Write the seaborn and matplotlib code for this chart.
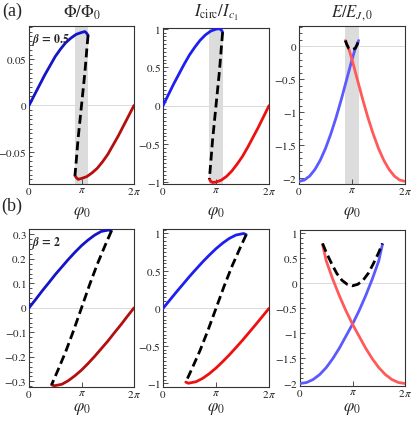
import numpy as np
import seaborn as sns
import matplotlib
matplotlib.use("Agg")
from matplotlib import pyplot as plt
from matplotlib.ticker import FixedLocator, MultipleLocator

# phi0 values are in units of pi
# ---- beta = 0.5 ----
phi_a_blue = [0, 0.1, 0.2, 0.3, 0.4, 0.5, 0.6, 0.7, 0.8, 0.9, 1.0, 1.065, 1.1, 1.125]
cur_a_blue = [0, 0.14, 0.28, 0.41, 0.54, 0.66, 0.76, 0.85, 0.92, 0.97, 0.995, 1.0, 0.985, 0.955]
phi_a_red = [0.875, 0.9, 0.935, 1.0, 1.1, 1.2, 1.3, 1.4, 1.5, 1.6, 1.7, 1.8, 1.9, 2.0]
cur_a_red = [-0.955, -0.985, -1.0, -0.995, -0.97, -0.92, -0.85, -0.76, -0.66, -0.54, -0.41, -0.28, -0.14, 0]
phi_a_dash = [1.125, 1.1, 1.065, 1.0, 0.935, 0.9, 0.875]
cur_a_dash = [0.955, 0.75, 0.45, 0.0, -0.45, -0.75, -0.955]

flux_a_blue = [0, 0.011, 0.022, 0.033, 0.043, 0.053, 0.061, 0.068, 0.073, 0.077, 0.079, 0.080, 0.078, 0.076]
flux_a_red = [-0.076, -0.078, -0.080, -0.079, -0.077, -0.073, -0.068, -0.061, -0.053, -0.043, -0.033, -0.022, -0.011, 0]
flux_a_dash = [0.076, 0.060, 0.036, 0.0, -0.036, -0.060, -0.076]

phi_a_eblue = [0, 0.1, 0.2, 0.3, 0.4, 0.5, 0.6, 0.7, 0.8, 0.9, 1.0, 1.06, 1.125]
en_a_blue = [-2.05, -2.03, -1.97, -1.87, -1.73, -1.55, -1.33, -1.08, -0.80, -0.50, -0.20, -0.04, 0.09]
phi_a_ered = [0.875, 0.94, 1.0, 1.1, 1.2, 1.3, 1.4, 1.5, 1.6, 1.7, 1.8, 1.9, 2.0]
en_a_red = [0.09, -0.04, -0.20, -0.50, -0.80, -1.08, -1.33, -1.55, -1.73, -1.87, -1.97, -2.03, -2.05]
phi_a_edash = [0.875, 0.9, 0.94, 1.0, 1.06, 1.1, 1.125]
en_a_dash = [0.09, 0.03, -0.03, -0.05, -0.03, 0.03, 0.09]

# ---- beta = 2 ----
phi_b_blue = [0, 0.125, 0.25, 0.375, 0.5, 0.625, 0.75, 0.875, 1.0, 1.125, 1.25, 1.375, 1.52, 1.57]
cur_b_blue = [0, 0.108, 0.216, 0.321, 0.426, 0.525, 0.622, 0.712, 0.797, 0.871, 0.934, 0.979, 1.0, 0.985]
phi_b_red = [0.43, 0.48, 0.625, 0.75, 0.875, 1.0, 1.125, 1.25, 1.375, 1.5, 1.625, 1.75, 1.875, 2.0]
cur_b_red = [-0.985, -1.0, -0.979, -0.934, -0.871, -0.797, -0.712, -0.622, -0.525, -0.426, -0.321, -0.216, -0.108, 0]
phi_b_dash = [1.57, 1.45, 1.3, 1.15, 1.0, 0.85, 0.7, 0.55, 0.43]
cur_b_dash = [0.985, 0.80, 0.56, 0.29, 0.0, -0.29, -0.56, -0.80, -0.985]

flux_b_blue = [0, 0.034, 0.069, 0.102, 0.136, 0.167, 0.198, 0.227, 0.254, 0.277, 0.297, 0.312, 0.318, 0.314]
flux_b_red = [-0.314, -0.318, -0.312, -0.297, -0.277, -0.254, -0.227, -0.198, -0.167, -0.136, -0.102, -0.069, -0.034, 0]
flux_b_dash = [0.314, 0.255, 0.178, 0.092, 0.0, -0.092, -0.178, -0.255, -0.314]

phi_b_eblue = [0, 0.125, 0.25, 0.375, 0.5, 0.625, 0.75, 0.875, 1.0, 1.125, 1.25, 1.375, 1.5, 1.57]
en_b_blue = [-2.01, -1.99, -1.93, -1.83, -1.69, -1.51, -1.30, -1.06, -0.82, -0.55, -0.25, 0.08, 0.45, 0.78]
phi_b_ered = [0.43, 0.5, 0.625, 0.75, 0.875, 1.0, 1.125, 1.25, 1.375, 1.5, 1.625, 1.75, 1.875, 2.0]
en_b_red = [0.78, 0.45, 0.08, -0.25, -0.55, -0.82, -1.06, -1.30, -1.51, -1.69, -1.83, -1.93, -1.99, -2.01]
phi_b_edash = [0.43, 0.5, 0.6, 0.7, 0.8, 0.9, 1.0, 1.1, 1.2, 1.3, 1.4, 1.5, 1.57]
en_b_dash = [0.80, 0.62, 0.40, 0.20, 0.06, -0.02, -0.05, -0.02, 0.06, 0.20, 0.40, 0.62, 0.80]

band_a = (0.87, 1.13)

sns.set_theme(style="ticks")
plt.rcParams['font.family'] = ['Liberation Serif', 'DejaVu Serif']
plt.rcParams['mathtext.fontset'] = 'stix'

W, H = 416, 421
fig = plt.figure(figsize=(W / 100, H / 100), dpi=100)


def px_axes(x0, y0, x1, y1):
    return fig.add_axes([x0 / W, 1 - y1 / H, (x1 - x0) / W, (y1 - y0) / H])


def line(ax, phi, vals, color, dashed=False):
    x = np.array(phi) * np.pi
    if dashed:
        sns.lineplot(x=x, y=vals, ax=ax, color="black", lw=2.0, sort=False,
                     estimator=None, linestyle=(0, (3.2, 1.6)), zorder=4)
    else:
        sns.lineplot(x=x, y=vals, ax=ax, color=color, lw=2.0, sort=False,
                     estimator=None, zorder=3)


def style(ax, ylim, yticks, ylabels, minor, band=None):
    ax.set_xlim(0, 2 * np.pi)
    ax.set_ylim(*ylim)
    ax.axhline(0, color="#dadada", lw=0.7, zorder=1)
    if band is not None:
        ax.axvspan(band[0] * np.pi, band[1] * np.pi, color="#dcdcdc", lw=0, zorder=0)
    ax.set_xticks([0, np.pi, 2 * np.pi])
    ax.set_xticklabels([r"$0$", r"$\pi$", r"$2\,\pi$"])
    ax.yaxis.set_major_locator(FixedLocator(yticks))
    ax.set_yticklabels(["$" + s + "$" for s in ylabels])
    ax.yaxis.set_minor_locator(MultipleLocator(minor))
    ax.tick_params(which="both", direction="in", width=0.6, colors="#333333",
                   labelsize=8, labelcolor="#222222", pad=1.5)
    ax.tick_params(which="major", length=3.5)
    ax.tick_params(which="minor", length=1.8)
    for s in ax.spines.values():
        s.set_color("#333333")
        s.set_linewidth(0.8)
    ax.set_xlabel("")
    ax.set_ylabel("")


blue_d, red_d = "#1414c8", "#b40e0e"
blue_m, red_m = "#1e1ef0", "#ee1010"
blue_l, red_l = "#5a5aff", "#ff5a5a"

# row (a)
ax = px_axes(29, 26, 134, 184)
line(ax, phi_a_blue, flux_a_blue, blue_d)
line(ax, phi_a_red, flux_a_red, red_d)
line(ax, phi_a_dash, flux_a_dash, None, dashed=True)
style(ax, (-0.085, 0.086), [-0.05, 0, 0.05], ["-0.05", "0", "0.05"], 0.005, band_a)
ax.text(0.03, 0.965, r"$\boldsymbol{\beta}\,\mathbf{=\,0.5}$", transform=ax.transAxes,
        fontsize=8.5, ha="left", va="top")

ax = px_axes(163, 28, 269, 184)
line(ax, phi_a_blue, cur_a_blue, blue_m)
line(ax, phi_a_red, cur_a_red, red_m)
line(ax, phi_a_dash, cur_a_dash, None, dashed=True)
style(ax, (-1.02, 1.01), [-1, -0.5, 0, 0.5, 1], ["-1", "-0.5", "0", "0.5", "1"], 0.05, band_a)

ax = px_axes(299, 26, 405, 184)
line(ax, phi_a_eblue, en_a_blue, blue_l)
line(ax, phi_a_ered, en_a_red, red_l)
line(ax, phi_a_edash, en_a_dash, None, dashed=True)
style(ax, (-2.09, 0.31), [-2, -1.5, -1, -0.5, 0], ["-2", "-1.5", "-1", "-0.5", "0"], 0.1, band_a)

# row (b)
ax = px_axes(29, 229, 134, 387)
line(ax, phi_b_blue, flux_b_blue, blue_d)
line(ax, phi_b_red, flux_b_red, red_d)
line(ax, phi_b_dash, flux_b_dash, None, dashed=True)
style(ax, (-0.323, 0.322), [-0.3, -0.2, -0.1, 0, 0.1, 0.2, 0.3],
      ["-0.3", "-0.2", "-0.1", "0", "0.1", "0.2", "0.3"], 0.02)
ax.text(0.03, 0.965, r"$\boldsymbol{\beta}\,\mathbf{=\,2}$", transform=ax.transAxes,
        fontsize=8.5, ha="left", va="top")

ax = px_axes(163, 229, 269, 387)
line(ax, phi_b_blue, cur_b_blue, blue_m)
line(ax, phi_b_red, cur_b_red, red_m)
line(ax, phi_b_dash, cur_b_dash, None, dashed=True)
style(ax, (-1.05, 1.06), [-1, -0.5, 0, 0.5, 1], ["-1", "-0.5", "0", "0.5", "1"], 0.05)

ax = px_axes(300, 230, 405, 386)
line(ax, phi_b_eblue, en_b_blue, blue_l)
line(ax, phi_b_ered, en_b_red, red_l)
line(ax, phi_b_edash, en_b_dash, None, dashed=True)
style(ax, (-2.06, 1.07), [-2, -1.5, -1, -0.5, 0, 0.5, 1],
      ["-2", "-1.5", "-1", "-0.5", "0", "0.5", "1"], 0.1)

# titles, axis labels, panel letters
for xc, t in [(81.5, r"$\Phi/\Phi_0$"), (216, r"$I_{\rm circ}/I_{c_1}$"), (352, r"$E/E_{J,0}$")]:
    fig.text(xc / W, 1 - 13 / H, t, ha="center", va="center", fontsize=12)
for xc in [81.5, 216, 352]:
    fig.text(xc / W, 1 - 213 / H, r"$\varphi_0$", ha="center", va="center", fontsize=12)
    fig.text(xc / W, 1 - 409 / H, r"$\varphi_0$", ha="center", va="center", fontsize=12)
fig.text(12 / W, 1 - 11 / H, "(a)", ha="center", va="center", fontsize=13)
fig.text(12 / W, 1 - 206 / H, "(b)", ha="center", va="center", fontsize=13)

fig.savefig("out.png", dpi=100)
